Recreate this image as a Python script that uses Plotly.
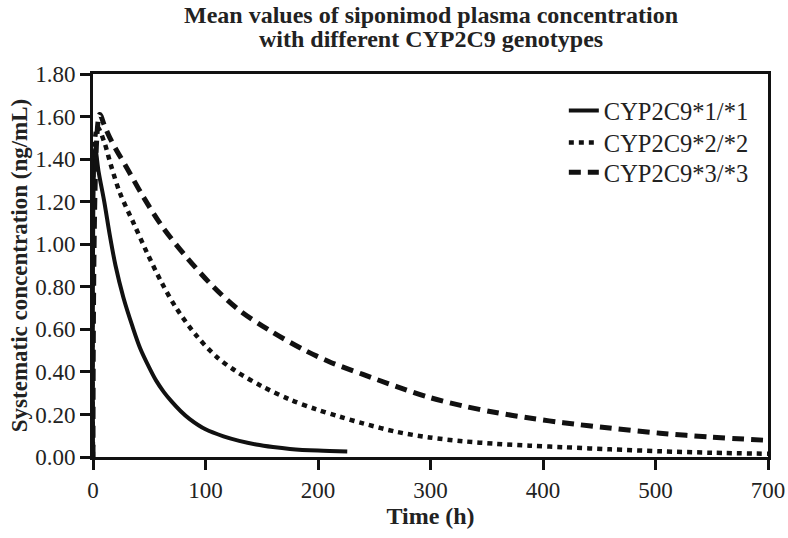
import plotly.graph_objects as go

# values (time in h, concentration in ng/mL)
time_11 = [0, 2, 5, 10, 15, 20, 27, 35, 42, 50, 56, 63, 70, 78, 86, 100, 116, 130, 145, 160, 175, 200, 226]
conc_11 = [0, 1.45, 1.34, 1.20, 1.04, 0.90, 0.75, 0.615, 0.51, 0.42, 0.36, 0.305, 0.26, 0.215, 0.178,
           0.13, 0.097, 0.076, 0.059, 0.047, 0.038, 0.030, 0.026]

time_22 = [0, 4, 10, 16, 24, 36, 48, 61, 74, 92, 110, 128, 151, 175, 198, 219, 240, 270, 299, 329,
           358, 388, 418, 460, 504, 550, 600]
conc_22 = [0, 1.55, 1.48, 1.37, 1.24, 1.10, 0.96, 0.82, 0.70, 0.57, 0.47, 0.40, 0.33, 0.27, 0.225,
           0.19, 0.158, 0.118, 0.092, 0.074, 0.062, 0.053, 0.046, 0.036, 0.027, 0.020, 0.015]

time_33 = [0, 6, 10, 15, 20, 31, 45, 62, 83, 107, 130, 157, 187, 210, 240, 270, 299, 329, 358, 388,
           418, 459, 504, 548, 600]
conc_33 = [0, 1.61, 1.56, 1.50, 1.45, 1.35, 1.22, 1.08, 0.94, 0.80, 0.69, 0.595, 0.505, 0.448, 0.388,
           0.331, 0.280, 0.240, 0.209, 0.183, 0.161, 0.136, 0.112, 0.094, 0.078]

series_names = ["CYP2C9*1/*1", "CYP2C9*2/*2", "CYP2C9*3/*3"]

x_tickvals = [0, 100, 200, 300, 400, 500, 600]
x_ticktext = ["0", "100", "200", "300", "400", "500", "700"]
y_tickvals = [0, 0.2, 0.4, 0.6, 0.8, 1.0, 1.2, 1.4, 1.6, 1.8]

serif = "Liberation Serif"
ink = "#222222"

fig = go.Figure()
fig.add_trace(go.Scatter(x=time_11, y=conc_11, mode="lines", name=series_names[0], legend="legend",
                         line=dict(color="#111111", width=4, shape="spline", smoothing=0.9)))
fig.add_trace(go.Scatter(x=time_22, y=conc_22, mode="lines", name=series_names[1], legend="legend2",
                         line=dict(color="#111111", width=4.5, dash="5px,5px", shape="spline", smoothing=0.9)))
fig.add_trace(go.Scatter(x=time_33, y=conc_33, mode="lines", name=series_names[2], legend="legend3",
                         line=dict(color="#111111", width=5, dash="12px,7px", shape="spline", smoothing=0.9)))

# two-line bold title, placed by hand above the plot
fig.add_annotation(text="<b>Mean values of siponimod plasma concentration</b>", xref="paper", yref="paper",
                   x=0.5, y=1.155, xanchor="center", yanchor="middle", showarrow=False,
                   font=dict(family=serif, size=24, color=ink))
fig.add_annotation(text="<b>with different CYP2C9 genotypes</b>", xref="paper", yref="paper",
                   x=0.5, y=1.091, xanchor="center", yanchor="middle", showarrow=False,
                   font=dict(family=serif, size=24, color=ink))

legend_style = dict(xanchor="right", yanchor="top", x=0.979,
                    bgcolor="rgba(0,0,0,0)", borderwidth=0,
                    font=dict(family=serif, size=24.5, color=ink))

fig.update_layout(
    width=788,
    height=538,
    margin=dict(l=93, r=20, t=74, b=81),
    paper_bgcolor="white",
    plot_bgcolor="white",
    font=dict(family=serif, color=ink, size=23),
    legend=dict(y=0.963, **legend_style),
    legend2=dict(y=0.880, **legend_style),
    legend3=dict(y=0.802, **legend_style),
    showlegend=True,
)

fig.update_xaxes(
    range=[0, 600],
    tickvals=x_tickvals,
    ticktext=x_ticktext,
    ticks="outside", ticklen=10, tickwidth=2.5, tickcolor="#111111",
    showline=True, linecolor="#111111", linewidth=3, mirror=True,
    showgrid=False, zeroline=False, automargin=False,
    title=dict(text="<b>Time (h)</b>", standoff=4, font=dict(size=24)),
)
fig.update_yaxes(
    range=[0, 1.8],
    tickvals=y_tickvals,
    tickformat=".2f",
    ticks="outside", ticklen=10, tickwidth=2.5, tickcolor="#111111",
    showline=True, linecolor="#111111", linewidth=3, mirror=True,
    showgrid=False, zeroline=False, automargin=False,
    title=dict(text="<b>Systematic concentration (ng/mL)</b>", standoff=2, font=dict(size=23)),
)

# drop the browser's default 8px body margin so the figure fills the window exactly
fig.write_html("out.html", config={"displayModeBar": False},
               post_script="document.body.style.margin='0';document.body.style.overflow='hidden';")
